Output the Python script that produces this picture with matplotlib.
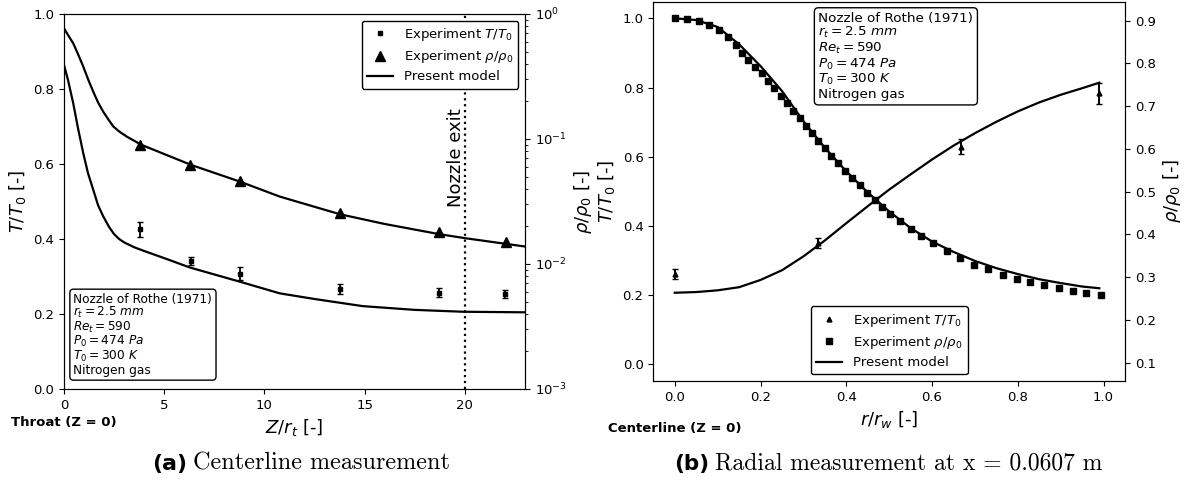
import matplotlib
matplotlib.use("Agg")
import matplotlib.pyplot as plt
import matplotlib.transforms as mtransforms
from matplotlib.lines import Line2D

# ---------------- (a) centerline data ----------------
z_model_T = [0, 0.2, 0.46, 0.7, 0.96, 1.2, 1.46, 1.7, 1.96, 2.25, 2.5, 2.75,
             3.0, 3.5, 4.0, 5.0, 6.28, 8.78, 10.77, 12.5, 14.9, 17.5, 19.9,
             23.0]
T_model_z = [0.864, 0.824, 0.762, 0.695, 0.629, 0.575, 0.531, 0.490, 0.460,
             0.432, 0.413, 0.400, 0.391, 0.378, 0.368, 0.349, 0.324, 0.286,
             0.255, 0.240, 0.221, 0.211, 0.206, 0.2045]

z_model_rho = [0, 0.2, 0.46, 0.7, 0.96, 1.2, 1.46, 1.7, 1.96, 2.25, 2.46,
               2.75, 3.13, 3.87, 6.37, 8.78, 10.77, 13.77, 16.0, 18.75, 20.0,
               23.0]
rho_model_z = [0.769, 0.679, 0.583, 0.477, 0.380, 0.301, 0.239, 0.196, 0.165,
               0.1406, 0.126, 0.115, 0.1045, 0.0897, 0.0618, 0.0456, 0.0346,
               0.0250, 0.0209, 0.0173, 0.0161, 0.0138]

z_exp_T = [3.79, 6.32, 8.78, 13.77, 18.70, 22.00]
T_exp_z = [0.426, 0.342, 0.308, 0.266, 0.257, 0.253]
T_err_z = [0.020, 0.011, 0.018, 0.013, 0.012, 0.010]

z_exp_rho = [3.80, 6.30, 8.78, 13.77, 18.72, 22.05]
rho_exp_z = [0.0897, 0.0625, 0.0465, 0.0257, 0.0180, 0.0151]

# ---------------- (b) radial data ----------------
r_exp_rho = [0.0, 0.029, 0.056, 0.081, 0.103, 0.124, 0.142, 0.157, 0.172,
             0.188, 0.203, 0.217, 0.232, 0.247, 0.262, 0.276, 0.291, 0.306,
             0.321, 0.335, 0.350, 0.365, 0.380, 0.396, 0.413, 0.431, 0.449,
             0.466, 0.484, 0.503, 0.525, 0.551, 0.575, 0.602, 0.635, 0.666,
             0.699, 0.731, 0.765, 0.797, 0.829, 0.862, 0.895, 0.928, 0.960,
             0.993]
rho_exp_r = [1.000, 0.997, 0.992, 0.981, 0.966, 0.947, 0.924, 0.901, 0.880,
             0.860, 0.841, 0.820, 0.798, 0.775, 0.754, 0.733, 0.711, 0.689,
             0.668, 0.646, 0.626, 0.602, 0.581, 0.560, 0.539, 0.517, 0.496,
             0.475, 0.456, 0.434, 0.414, 0.391, 0.372, 0.350, 0.329, 0.307,
             0.288, 0.275, 0.259, 0.247, 0.237, 0.228, 0.221, 0.213, 0.207,
             0.200]

r_model_rho = [0.0, 0.05, 0.10, 0.15, 0.20, 0.25, 0.30, 0.35, 0.40, 0.45,
               0.50, 0.55, 0.60, 0.65, 0.70, 0.75, 0.80, 0.85, 0.90, 0.95,
               0.99]
rho_model_r = [1.000, 0.995, 0.975, 0.925, 0.862, 0.790, 0.703, 0.626, 0.558,
               0.497, 0.442, 0.394, 0.355, 0.325, 0.299, 0.278, 0.261, 0.246,
               0.235, 0.225, 0.220]

r_model_T = [0.0, 0.05, 0.10, 0.15, 0.20, 0.25, 0.30, 0.35, 0.40, 0.45, 0.50,
             0.55, 0.60, 0.65, 0.70, 0.75, 0.80, 0.85, 0.90, 0.95, 0.99]
T_model_r = [0.207, 0.209, 0.214, 0.223, 0.244, 0.272, 0.312, 0.358, 0.408,
             0.457, 0.505, 0.549, 0.592, 0.632, 0.668, 0.701, 0.731, 0.757,
             0.779, 0.798, 0.814]

r_exp_T = [0.0, 0.335, 0.667, 0.990]
T_exp_r = [0.261, 0.350, 0.629, 0.783]
T_err_r = [0.015, 0.015, 0.022, 0.031]

box_text = ("Nozzle of Rothe (1971)\n"
            r"$r_t = 2.5\ mm$" "\n"
            r"$Re_t = 590$" "\n"
            r"$P_0 = 474\ Pa$" "\n"
            r"$T_0 = 300\ K$" "\n"
            "Nitrogen gas")

W, H = 1186, 483
fig = plt.figure(figsize=(W / 100, H / 100), dpi=100)

TICK_FS = 9.5
LAB_FS = 13


def px_rect(x0, y0, x1, y1):
    return [x0 / W, (H - y1) / H, (x1 - x0) / W, (y1 - y0) / H]


box_style = dict(boxstyle="round,pad=0.3", fc="white", ec="black", lw=1.0)

# ================= panel (a) =================
ax1 = fig.add_axes(px_rect(64, 14, 525, 389))
ax1.plot(z_model_T, T_model_z, "k-", lw=1.6)
ax1.errorbar(z_exp_T, T_exp_z, yerr=T_err_z, fmt="ks", ms=3.5,
             capsize=2, elinewidth=1.3, capthick=1.0)
ax1.axvline(20, color="k", ls=":", lw=1.6)
ax1.set_xlim(0, 23)
ax1.set_ylim(0, 1)
ax1.set_xticks([0, 5, 10, 15, 20])
ax1.set_yticks([0.0, 0.2, 0.4, 0.6, 0.8, 1.0])
ax1.tick_params(labelsize=TICK_FS)
ax1.set_xlabel(r"$Z/r_t$ [-]", fontsize=LAB_FS)
ax1.set_ylabel(r"$T/T_0$ [-]", fontsize=LAB_FS)
ax1.text(20, 0.616, "Nozzle exit", rotation=90, ha="right", va="center",
         fontsize=LAB_FS)
ax1.text(0.0206, 0.0333, box_text, transform=ax1.transAxes, ha="left",
         va="bottom", fontsize=8.75, linespacing=0.95, bbox=box_style)
trans1 = mtransforms.blended_transform_factory(ax1.transData, ax1.transAxes)
ax1.text(0, -0.09, "Throat (Z = 0)", transform=trans1, ha="center",
         va="center", fontsize=9.5, fontweight="bold", clip_on=False)

ax1r = ax1.twinx()
ax1r.set_yscale("log")
ax1r.plot(z_model_rho, rho_model_z, "k-", lw=1.6)
ax1r.plot(z_exp_rho, rho_exp_z, "k^", ms=6.5)
ax1r.set_ylim(1e-3, 1)
ax1r.tick_params(labelsize=TICK_FS)
ax1r.set_ylabel(r"$\rho/\rho_0$ [-]", fontsize=LAB_FS)

handles_a = [
    Line2D([], [], color="k", marker="s", ls="none", ms=3.5),
    Line2D([], [], color="k", marker="^", ls="none", ms=6.5),
    Line2D([], [], color="k", lw=1.6),
]
labels_a = [r"Experiment $T/T_0$", r"Experiment $\rho/\rho_0$",
            "Present model"]
leg = ax1r.legend(handles_a, labels_a, loc="upper right", fontsize=TICK_FS,
                  fancybox=True, framealpha=1.0, edgecolor="black",
                  labelspacing=0.4)
leg.get_frame().set_linewidth(1.0)

# ================= panel (b) =================
ax2 = fig.add_axes(px_rect(653.3, 1.7, 1125, 381))
ax2.plot(r_model_rho, rho_model_r, "k-", lw=1.6)
ax2.plot(r_exp_rho, rho_exp_r, "ks", ms=4.6)
ax2.plot(r_model_T, T_model_r, "k-", lw=1.6)
ax2.errorbar(r_exp_T, T_exp_r, yerr=T_err_r, fmt="k^", ms=3.5,
             capsize=2.5, elinewidth=1.4, capthick=1.0)
ax2.set_xlim(-0.05, 1.05)
ax2.set_ylim(-0.048, 1.048)
ax2.set_xticks([0.0, 0.2, 0.4, 0.6, 0.8, 1.0])
ax2.set_yticks([0.0, 0.2, 0.4, 0.6, 0.8, 1.0])
ax2.tick_params(labelsize=TICK_FS)
ax2.set_xlabel(r"$r/r_w$ [-]", fontsize=LAB_FS)
ax2.set_ylabel(r"$T/T_0$ [-]", fontsize=LAB_FS)
ax2.text(0.350, 0.9734, box_text, transform=ax2.transAxes, ha="left",
         va="top", fontsize=9.7, linespacing=1.05, bbox=box_style)
trans2 = mtransforms.blended_transform_factory(ax2.transData, ax2.transAxes)
ax2.text(0, -0.125, "Centerline (Z = 0)", transform=trans2, ha="center",
         va="center", fontsize=9.5, fontweight="bold", clip_on=False)

ax2r = ax2.twinx()
ax2r.set_ylim(0.0572, 0.9444)
ax2r.set_yticks([0.1, 0.2, 0.3, 0.4, 0.5, 0.6, 0.7, 0.8, 0.9])
ax2r.tick_params(labelsize=TICK_FS)
ax2r.set_ylabel(r"$\rho/\rho_0$ [-]", fontsize=LAB_FS)

handles_b = [
    Line2D([], [], color="k", marker="^", ls="none", ms=3.5),
    Line2D([], [], color="k", marker="s", ls="none", ms=4.6),
    Line2D([], [], color="k", lw=1.6),
]
leg2 = ax2r.legend(handles_b, labels_a, loc="lower center", fontsize=TICK_FS,
                   fancybox=True, framealpha=1.0, edgecolor="black",
                   labelspacing=0.4)
leg2.get_frame().set_linewidth(1.0)

# ================= captions =================
cap_y = (H - 470) / H
fig.canvas.draw()
renderer = fig.canvas.get_renderer()
for x_left, tag, body, fs in [
        (152, "(a)", "Centerline measurement", 17.4),
        (674, "(b)", "Radial measurement at x = 0.0607 m", 17.0)]:
    t = fig.text(x_left / W, cap_y, tag, ha="left", va="baseline",
                 fontsize=fs - 1.5, fontweight="bold")
    bb = t.get_window_extent(renderer)
    fig.text((bb.x1 + 6) / W, cap_y, body, ha="left", va="baseline",
             fontsize=fs, family="cmr10")

fig.savefig("out.png", dpi=100)
